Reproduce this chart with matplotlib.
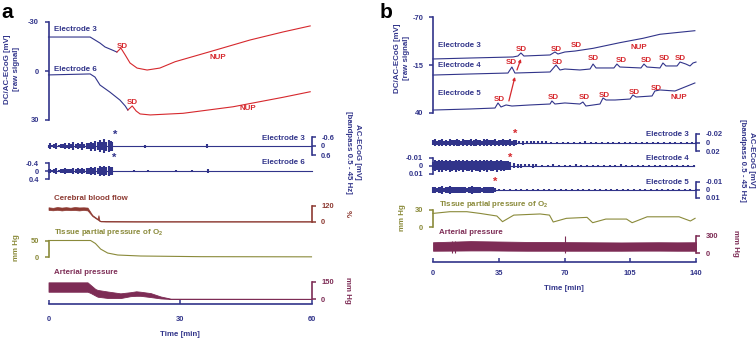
import matplotlib
matplotlib.use('Agg')
import matplotlib.pyplot as plt

plt.rcParams['font.family'] = ['Liberation Sans', 'DejaVu Sans']
plt.rcParams['font.weight'] = 'bold'
plt.rcParams['axes.unicode_minus'] = False
plt.rcParams['mathtext.fontset'] = 'custom'
plt.rcParams['mathtext.bf'] = 'Liberation Sans:bold'
plt.rcParams['mathtext.rm'] = 'Liberation Sans:bold'
plt.rcParams['mathtext.default'] = 'bf'

NAVY = '#31348a'
RED = '#d6282d'
CBF = '#8d3a32'
OLIVE = '#8a8a3a'
AP = '#7d2c55'

# ---------------- Panel a data ----------------
a_time_ticks = [0, 30, 60]
a_dc_ticks = [-30, 0, 30]
a_dc3_t = [0, 9.5, 10.6, 11.75, 12.9, 14.5, 15.6, 16.1, 16.5, 17.5, 18.6, 20.2, 22.5, 25.4, 28.9, 36.8, 46.0, 53.5, 59.7]
a_dc3_v = [-20.8, -20.8, -19.0, -17.1, -14.7, -12.9, -11.6, -12.9, -14.1, -9.8, -4.9, -1.8, -0.6, -1.8, -5.7, -11.8, -19.0, -23.9, -27.6]
a_dc3_sd = 15.6
a_dc6_t = [0, 9.5, 10.6, 11.75, 14.0, 16.3, 17.5, 18.1, 19.1, 20.0, 20.9, 23.2, 30.7, 42.1, 53.5, 59.7]
a_dc6_v = [2.4, 1.8, 3.7, 8.6, 12.9, 17.8, 21.4, 23.9, 21.4, 24.5, 26.3, 26.9, 25.9, 21.9, 16.1, 12.7]
a_dc6_sd = 18.1

a_ac3_ticks = [-0.6, 0, 0.6]
a_ac3_t = [0, 0.4, 0.9, 1.3, 1.8, 2.3, 2.8, 3.2, 3.7, 4.2, 4.7, 5.2, 5.7, 6.2, 6.7, 7.2, 7.7, 8.2, 8.7, 9.2,
           9.7, 10.2, 10.7, 11.2, 11.7, 12.2, 12.7, 13.2, 13.7, 14.2, 14.6, 14.8, 21.9, 22.1, 22.3, 36.0, 36.2, 36.4, 60]
a_ac3_amp = [0.10, 0.18, 0.08, 0.14, 0.22, 0.09, 0.15, 0.12, 0.20, 0.10, 0.17, 0.13, 0.24, 0.12, 0.19, 0.15, 0.26, 0.14, 0.22, 0.18,
             0.30, 0.20, 0.34, 0.24, 0.40, 0.28, 0.44, 0.30, 0.42, 0.36, 0.30, 0.02, 0.02, 0.10, 0.02, 0.02, 0.14, 0.02, 0.02]
a_ac6_ticks = [-0.4, 0, 0.4]
a_ac6_t = [0, 0.4, 0.9, 1.3, 1.8, 2.3, 2.8, 3.2, 3.7, 4.2, 4.7, 5.2, 5.7, 6.2, 6.7, 7.2, 7.7, 8.2, 8.7, 9.2,
           9.7, 10.2, 10.7, 11.2, 11.7, 12.2, 12.7, 13.2, 13.7, 14.2, 14.6,
           14.8, 19.2, 19.4, 19.6, 22.6, 22.8, 23.0, 28.8, 29.0, 29.2, 32.6, 32.8, 33.0, 36.1, 36.3, 36.5, 60]
a_ac6_amp = [0.08, 0.12, 0.06, 0.10, 0.14, 0.07, 0.11, 0.09, 0.13, 0.08, 0.12, 0.10, 0.15, 0.09, 0.14, 0.11, 0.17, 0.12, 0.16, 0.14,
             0.20, 0.15, 0.22, 0.17, 0.25, 0.19, 0.27, 0.21, 0.26, 0.22, 0.18,
             0.015, 0.015, 0.05, 0.015, 0.015, 0.05, 0.015, 0.015, 0.06, 0.015, 0.015, 0.05, 0.015, 0.015, 0.08, 0.015, 0.015]

a_cbf_ticks = [0, 120]
a_cbf_t = [0, 1, 2, 3, 4, 5, 6, 7, 8, 8.9, 10.0, 11.2, 11.4, 11.6, 11.9, 13, 20, 30, 45, 60]
a_cbf_hi = [110, 106, 112, 108, 111, 107, 112, 109, 110, 108, 51, 22, 50, 12, 6, 4, 3, 3, 3, 3]
a_cbf_lo = [90, 87, 91, 86, 90, 88, 89, 86, 90, 86, 43, 16, 12, 6, 2, 1, 1, 1, 1, 1]

a_po2_ticks = [0, 50]
a_po2_t = [0, 9.6, 10.7, 11.9, 13.5, 15.8, 21, 34.7, 60]
a_po2_v = [50, 50, 41, 24, 12, 6, 3, 1, 0.5]

a_ap_ticks = [0, 150]
a_ap_t = [0, 8.9, 9.6, 10.7, 11.2, 13.5, 16.4, 18.7, 20, 21, 23.3, 25.6, 27.9, 60]
a_ap_hi = [147, 147, 124, 88, 80, 66, 50, 60, 68, 64, 52, 22, 3, 2]
a_ap_lo = [64, 64, 53, 30, 20, 9, 8, 25, 28, 28, 17, 5, 0, 0]

# ---------------- Panel b data ----------------
b_time_ticks = [0, 35, 70, 105, 140]
b_dc_ticks = [-70, -15, 40]
b_dc3_t = [0, 19.7, 42.6, 45.2, 46.8, 48.4, 62.3, 64.9, 66.5, 70.2, 75.6, 85.2, 99.5, 111.8, 120.8, 139.4]
b_dc3_v = [-21.9, -23.0, -24.2, -25.3, -28.8, -25.3, -26.5, -29.9, -27.6, -29.9, -31.0, -34.1, -40.6, -45.6, -50.2, -54.3]
b_dc4_t = [0, 19.7, 39.9, 42.0, 43.6, 62.3, 65.5, 67.6, 70.2, 78.2, 83.6, 85.2, 86.8, 96.3, 97.9, 99.5, 110.7, 112.3,
           113.9, 120.8, 122.4, 124.0, 129.9, 131.5, 134.6, 136.8, 138.4, 140.0]
b_dc4_v = [-3.5, -4.7, -5.8, -12.7, -5.8, -7.0, -15.0, -9.3, -10.4, -9.3, -10.4, -16.1, -11.6, -11.6, -16.1, -12.7, -11.6, -16.1,
           -12.7, -11.6, -17.3, -13.9, -13.9, -18.4, -16.1, -13.9, -17.3, -18.4]
b_dc5_t = [0, 19.7, 33.0, 34.6, 36.2, 38.9, 42.0, 51.6, 62.3, 63.3, 64.9, 70.2, 78.2, 79.8, 81.4, 88.9, 90.5, 92.1, 96.9,
           104.9, 106.4, 108.1, 116.6, 118.1, 120.8, 128.8, 134.1, 139.4]
b_dc5_v = [36.6, 35.4, 34.3, 28.5, 33.1, 30.8, 32.0, 30.8, 29.7, 26.2, 29.7, 28.5, 29.7, 27.4, 32.0, 29.7, 22.8, 25.1, 25.1,
           24.0, 19.4, 21.7, 20.5, 14.8, 13.6, 14.8, 10.2, 5.6]
b_sd3 = [(46.8, -32.2), (65.5, -33.3), (76.1, -36.8)]
b_sd4 = [(41.5, -17.3), (66.0, -17.3), (85.2, -21.9), (100.1, -20.7), (113.4, -20.7), (122.9, -21.9), (131.5, -21.9)]
b_sd5 = [(35.1, 24.0), (63.9, 22.8), (80.4, 22.8), (91.0, 20.5), (107.0, 16.0), (118.7, 12.5)]

b_ac3_ticks = [-0.02, 0, 0.02]
b_ac3_t = [0, 1, 2, 3, 4, 5, 6, 7, 8, 9, 10, 11, 12, 13, 14, 15, 16, 17, 18, 19, 20, 21, 22, 23, 24, 25, 26, 27, 28, 29,
           30, 31, 32, 33, 34, 35, 36, 37, 38, 39, 40, 41, 42, 43, 44, 46, 48, 50, 52, 54, 56, 58, 60,
           63, 66, 69, 72, 75, 78, 81, 84, 87, 90, 93, 96, 99, 102, 105, 108, 111, 114, 117, 120, 123, 126, 129, 132,
           135, 138, 140]
b_ac3_amp = [0.006, 0.008, 0.005, 0.007, 0.006, 0.008, 0.0045, 0.007, 0.005, 0.008, 0.006, 0.007, 0.0055, 0.008, 0.007,
             0.005, 0.008, 0.006, 0.007, 0.0055, 0.0075, 0.005, 0.0065, 0.008, 0.006, 0.007, 0.005, 0.0075, 0.006, 0.008,
             0.0055, 0.007, 0.006, 0.008, 0.005, 0.007, 0.006, 0.0075, 0.0055, 0.007, 0.006, 0.0075, 0.005, 0.0065, 0.006,
             0.004, 0.0045, 0.0035, 0.004, 0.003, 0.0038, 0.003, 0.0032,
             0.0025, 0.002, 0.0028, 0.002, 0.0025, 0.0022, 0.003, 0.002, 0.0025, 0.0022, 0.0028, 0.002, 0.0025, 0.0022,
             0.0027, 0.002, 0.0025, 0.0022, 0.0028, 0.002, 0.0025, 0.0021, 0.0026, 0.002, 0.0024, 0.0022, 0.0025]
b_ac4_ticks = [-0.01, 0, 0.01]
b_ac4_t = [0, 1, 2, 3, 4, 5, 6, 7, 8, 9, 10, 11, 12, 13, 14, 15, 16, 17, 18, 19, 20, 21, 22, 23, 24, 25, 26, 27, 28, 29,
           30, 31, 32, 33, 34, 35, 36, 37, 38, 39, 40, 41, 43, 45, 47, 49, 51, 53, 55,
           58, 61, 64, 67, 70, 73, 76, 79, 82, 85, 88, 91, 94, 97, 100, 103, 106, 109, 112, 115, 118, 121, 124, 127,
           130, 133, 136, 139]
b_ac4_amp = [0.005, 0.007, 0.0055, 0.0075, 0.006, 0.008, 0.0055, 0.007, 0.006, 0.0075, 0.0065, 0.0055, 0.0075, 0.006,
             0.007, 0.0055, 0.0075, 0.006, 0.007, 0.0065, 0.006, 0.0075, 0.0055, 0.007, 0.0065, 0.008, 0.006, 0.007,
             0.0055, 0.0075, 0.006, 0.007, 0.0065, 0.0055, 0.0075, 0.006, 0.007, 0.0055, 0.0065, 0.006, 0.0055, 0.005,
             0.003, 0.0028, 0.0025, 0.0022, 0.002, 0.0024, 0.002,
             0.0015, 0.0012, 0.0017, 0.0013, 0.0015, 0.0012, 0.0018, 0.0013, 0.0015, 0.0012, 0.0016, 0.0013, 0.0015,
             0.0012, 0.0017, 0.0013, 0.0015, 0.0012, 0.0016, 0.0013, 0.0015, 0.0014, 0.0016, 0.0012, 0.0015, 0.0013,
             0.0016, 0.0014]
b_ac5_ticks = [-0.01, 0, 0.01]
b_ac5_t = [0, 1, 2, 3, 4, 5, 6, 7, 8, 9, 10, 11, 12, 13, 14, 15, 16, 17, 18, 19, 20, 21, 22, 23, 24, 25, 26, 27, 28, 29,
           30, 31, 32, 33, 35, 38, 41, 44, 47, 50, 53, 56, 59, 62, 65, 68, 71, 74, 77, 80, 83, 86, 89, 92, 95, 98, 101,
           104, 107, 110, 113, 116, 119, 122, 125, 128, 131, 134, 137, 140]
b_ac5_amp = [0.0035, 0.0042, 0.003, 0.004, 0.0035, 0.0045, 0.003, 0.004, 0.0036, 0.0044, 0.0032, 0.004, 0.0036, 0.0043,
             0.0033, 0.004, 0.0035, 0.0042, 0.003, 0.004, 0.0036, 0.0045, 0.0032, 0.004, 0.0035, 0.0043, 0.0031, 0.004,
             0.0036, 0.0042, 0.0033, 0.004, 0.0035, 0.003,
             0.0015, 0.0012, 0.0015, 0.0011, 0.0014, 0.0012, 0.0016, 0.0011, 0.0014, 0.0012, 0.0015, 0.0011, 0.0014,
             0.0012, 0.0016, 0.0011, 0.0014, 0.0012, 0.0015, 0.0011, 0.0014, 0.0012, 0.0016, 0.0011, 0.0014, 0.0012,
             0.0015, 0.0011, 0.0014, 0.0012, 0.0016, 0.0011, 0.0014, 0.0012, 0.0015, 0.0013]

b_po2_ticks = [0, 30]
b_po2_t = [0, 9, 18, 25, 34, 37, 43, 57, 62, 64, 71, 82, 85, 92, 103, 106, 114, 131, 137, 139.5]
b_po2_v = [24, 27, 27, 24, 19.4, 9.4, 21, 23, 21, 8.8, 15.3, 17, 7.6, 14, 14, 7.6, 18, 18, 10.6, 15.3]

b_ap_ticks = [0, 300]
b_ap_t = [0, 10, 20, 30, 40, 50, 60, 70, 80, 90, 100, 110, 120, 130, 140]
b_ap_hi = [190, 200, 210, 205, 200, 195, 195, 192, 190, 188, 186, 188, 190, 188, 190]
b_ap_lo = [40, 42, 45, 45, 42, 40, 40, 40, 40, 40, 40, 42, 42, 40, 40]
b_ap_spike_t = [9.9, 11.5, 70.3]
b_ap_spike_hi = [220, 215, 300]
b_ap_spike_lo = [-5, -5, -5]

# ---------------- layout helpers ----------------
W, H = 756, 339
fig = plt.figure(figsize=(W / 100, H / 100), dpi=100)
FS = 5.7
TFS = 5.4


def px_axes(x0, x1, ytop, ybot, xlim, ylim):
    ax = fig.add_axes([x0 / W, 1 - ybot / H, (x1 - x0) / W, (ybot - ytop) / H])
    ax.patch.set_alpha(0)
    for s in ax.spines.values():
        s.set_visible(False)
    ax.set_xticks([])
    ax.set_yticks([])
    ax.set_xlim(*xlim)
    ax.set_ylim(*ylim)
    return ax


def fmt(v):
    return '%g' % v


def bracket(ax, side, ticks, color):
    sp = ax.spines[side]
    sp.set_visible(True)
    sp.set_color(color)
    sp.set_linewidth(1.2)
    sp.set_bounds(min(ticks), max(ticks))
    if side == 'left':
        ax.yaxis.tick_left()
    else:
        ax.yaxis.tick_right()
    ax.set_yticks(ticks)
    ax.set_yticklabels([fmt(t) for t in ticks])
    ax.tick_params(axis='y', direction='out', length=2.6, width=1.1, colors=color,
                   labelsize=TFS, pad=4.4)
    for lab in ax.get_yticklabels():
        lab.set_fontweight('bold')


def time_axis(x0, x1, yspine, xlim, ticks, pad):
    ax = px_axes(x0, x1, yspine - 10, yspine, xlim, (0, 1))
    sp = ax.spines['bottom']
    sp.set_visible(True)
    sp.set_color(NAVY)
    sp.set_linewidth(1.2)
    ax.set_xticks(ticks)
    ax.set_xticklabels([fmt(t) for t in ticks])
    ax.tick_params(axis='x', direction='in', length=3.0, width=1.1, colors=NAVY,
                   labelsize=TFS, pad=pad)
    return ax


def ftext(x, y, s, **kw):
    kw.setdefault('fontsize', FS)
    kw.setdefault('fontweight', 'bold')
    fig.text(x / W, 1 - y / H, s, **kw)


def split_trace(ax, t, v, tsplit, c1, c2):
    t1 = [a for a in t if a <= tsplit]
    v1 = v[:len(t1)]
    t2 = t[len(t1) - 1:]
    v2 = v[len(t1) - 1:]
    ax.plot(t1, v1, color=c1, lw=0.8, clip_on=False, solid_joinstyle='round')
    ax.plot(t2, v2, color=c2, lw=0.8, clip_on=False, solid_joinstyle='round')


def noise_trace(ax, t, amp, color, lw):
    lo = [-a for a in amp]
    ax.vlines(t, lo, amp, color=color, lw=lw, clip_on=False)
    ax.plot(t, [0] * len(t), color=color, lw=0.8, clip_on=False)


# ================= Panel a =================
AX0, AX1 = 48.5, 311.5
ax = px_axes(AX0, AX1, 22, 120, (0, 60), (30, -30))
bracket(ax, 'left', a_dc_ticks, NAVY)
split_trace(ax, a_dc3_t, a_dc3_v, a_dc3_sd, NAVY, RED)
split_trace(ax, a_dc6_t, a_dc6_v, a_dc6_sd, NAVY, RED)
ax.text(16.8, -14.7, 'SD', color=RED, fontsize=FS, ha='center', va='center')
ax.text(19.1, 19.0, 'SD', color=RED, fontsize=FS, ha='center', va='center')
ax.text(38.7, -8.0, 'NUP', color=RED, fontsize=FS, ha='center', va='center')
ax.text(45.5, 22.7, 'NUP', color=RED, fontsize=FS, ha='center', va='center')
ax.text(1.3, -25.7, 'Electrode 3', color=NAVY, fontsize=FS, ha='left', va='center')
ax.text(1.3, -1.2, 'Electrode 6', color=NAVY, fontsize=FS, ha='left', va='center')

ax = px_axes(AX0, AX1, 137, 155, (0, 60), (0.6, -0.6))
bracket(ax, 'right', a_ac3_ticks, NAVY)
noise_trace(ax, a_ac3_t, a_ac3_amp, NAVY, 1.5)
ax = px_axes(AX0, AX1, 163, 179, (0, 60), (0.4, -0.4))
bracket(ax, 'left', a_ac6_ticks, NAVY)
noise_trace(ax, a_ac6_t, a_ac6_amp, NAVY, 1.5)
ftext(305, 138, 'Electrode 3', color=NAVY, ha='right', va='center')
ftext(305, 162, 'Electrode 6', color=NAVY, ha='right', va='center')
ftext(115, 135, '*', color=NAVY, ha='center', va='center', fontsize=8)
ftext(114, 158, '*', color=NAVY, ha='center', va='center', fontsize=8)

ax = px_axes(AX0, AX1, 206, 221.7, (0, 60), (0, 120))
bracket(ax, 'right', a_cbf_ticks, CBF)
ax.fill_between(a_cbf_t, a_cbf_lo, a_cbf_hi, color=CBF, lw=0.5, edgecolor=CBF, clip_on=False)
ftext(54, 199, 'Cerebral blood flow', color=CBF, ha='left', va='center')
ftext(347, 214, '%', color=CBF, ha='center', va='center', rotation=270)

ax = px_axes(AX0, AX1, 240.5, 257, (0, 60), (0, 50))
bracket(ax, 'left', a_po2_ticks, OLIVE)
ax.plot(a_po2_t, a_po2_v, color=OLIVE, lw=0.8, clip_on=False)
ftext(54, 232, 'Tissue partial pressure of O$_2$', color=OLIVE, ha='left', va='center')
ftext(17, 248, 'mm Hg', color=OLIVE, ha='center', va='center', rotation=90)

ax = px_axes(AX0, AX1, 282, 299, (0, 60), (0, 150))
bracket(ax, 'right', a_ap_ticks, AP)
ax.fill_between(a_ap_t, a_ap_lo, a_ap_hi, color=AP, lw=0.6, edgecolor=AP, clip_on=False)
ftext(54, 273, 'Arterial pressure', color=AP, ha='left', va='center')
ftext(347, 290, 'mm Hg', color=AP, ha='center', va='center', rotation=270)

time_axis(AX0, AX1, 304.3, (0, 60), a_time_ticks, 8.5)
ftext(180, 334, 'Time [min]', color=NAVY, ha='center', va='center')

ftext(12, 69, 'DC/AC-ECoG [mV]\n[raw signal]', color=NAVY, ha='center', va='center',
      rotation=90, multialignment='center', linespacing=1.25)
ftext(353, 152, 'AC-ECoG [mV]\n[bandpass 0.5 - 45 Hz]', color=NAVY, ha='center', va='center',
      rotation=270, multialignment='center', linespacing=1.25)
ftext(1, 18, 'a', color='black', fontsize=15, ha='left', va='baseline')

# ================= Panel b =================
BX0, BX1 = 433, 696
ax = px_axes(BX0, BX1, 17, 113, (0, 140), (40, -70))
bracket(ax, 'left', b_dc_ticks, NAVY)
for tt, vv in [(b_dc3_t, b_dc3_v), (b_dc4_t, b_dc4_v), (b_dc5_t, b_dc5_v)]:
    ax.plot(tt, vv, color=NAVY, lw=0.8, clip_on=False, solid_joinstyle='round')
for lst in (b_sd3, b_sd4, b_sd5):
    for (x, y) in lst:
        ax.text(x, y, 'SD', color=RED, fontsize=FS, ha='center', va='center')
ax.text(109.6, -35.6, 'NUP', color=RED, fontsize=FS, ha='center', va='center')
ax.text(130.9, 21.7, 'NUP', color=RED, fontsize=FS, ha='center', va='center')
ax.text(2.7, -37.9, 'Electrode 3', color=NAVY, fontsize=FS, ha='left', va='center')
ax.text(2.7, -13.9, 'Electrode 4', color=NAVY, fontsize=FS, ha='left', va='center')
ax.text(2.7, 18.2, 'Electrode 5', color=NAVY, fontsize=FS, ha='left', va='center')
ax.annotate('', xy=(43.6, -1.3), xytext=(40.4, 26.2),
            arrowprops=dict(arrowstyle='-|>', color=RED, lw=0.9, mutation_scale=4, shrinkA=0, shrinkB=0))
ax.annotate('', xy=(46.8, -21.9), xytext=(44.7, -9.3),
            arrowprops=dict(arrowstyle='-|>', color=RED, lw=0.9, mutation_scale=4, shrinkA=0, shrinkB=0))

ax = px_axes(BX0, BX1, 134, 151.5, (0, 140), (0.02, -0.02))
bracket(ax, 'right', b_ac3_ticks, NAVY)
noise_trace(ax, b_ac3_t, b_ac3_amp, NAVY, 1.5)
ax = px_axes(BX0, BX1, 158, 173.5, (0, 140), (0.01, -0.01))
bracket(ax, 'left', b_ac4_ticks, NAVY)
noise_trace(ax, b_ac4_t, b_ac4_amp, NAVY, 1.5)
ax = px_axes(BX0, BX1, 182, 198, (0, 140), (0.01, -0.01))
bracket(ax, 'right', b_ac5_ticks, NAVY)
noise_trace(ax, b_ac5_t, b_ac5_amp, NAVY, 1.5)
ftext(689, 134, 'Electrode 3', color=NAVY, ha='right', va='center')
ftext(689, 158, 'Electrode 4', color=NAVY, ha='right', va='center')
ftext(689, 182, 'Electrode 5', color=NAVY, ha='right', va='center')
ftext(515, 134, '*', color=RED, ha='center', va='center', fontsize=8)
ftext(510, 158, '*', color=RED, ha='center', va='center', fontsize=8)
ftext(495, 182, '*', color=RED, ha='center', va='center', fontsize=8)

ax = px_axes(BX0, BX1, 210, 227, (0, 140), (0, 30))
bracket(ax, 'left', b_po2_ticks, OLIVE)
ax.plot(b_po2_t, b_po2_v, color=OLIVE, lw=0.8, clip_on=False)
ftext(439, 204, 'Tissue partial pressure of O$_2$', color=OLIVE, ha='left', va='center')
ftext(403, 218, 'mm Hg', color=OLIVE, ha='center', va='center', rotation=90)

ax = px_axes(BX0, BX1, 236, 253, (0, 140), (0, 300))
bracket(ax, 'right', b_ap_ticks, AP)
ax.fill_between(b_ap_t, b_ap_lo, b_ap_hi, color=AP, lw=0.6, edgecolor=AP, clip_on=False)
ax.vlines(b_ap_spike_t, b_ap_spike_lo, b_ap_spike_hi, color=AP, lw=0.8, clip_on=False)
ftext(439, 233, 'Arterial pressure', color=AP, ha='left', va='center')
ftext(735, 243, 'mm Hg', color=AP, ha='center', va='center', rotation=270)

time_axis(BX0, BX1, 262, (0, 140), b_time_ticks, 5.5)
ftext(564, 289, 'Time [min]', color=NAVY, ha='center', va='center')

ftext(402, 58, 'DC/AC-ECoG [mV]\n[raw signal]', color=NAVY, ha='center', va='center',
      rotation=90, multialignment='center', linespacing=1.25)
ftext(747, 160, 'AC-ECoG [mV]\n[bandpass 0.5 - 45 Hz]', color=NAVY, ha='center', va='center',
      rotation=270, multialignment='center', linespacing=1.25)
ftext(380, 18, 'b', color='black', fontsize=15, ha='left', va='baseline')

fig.savefig('out.png', dpi=100)
